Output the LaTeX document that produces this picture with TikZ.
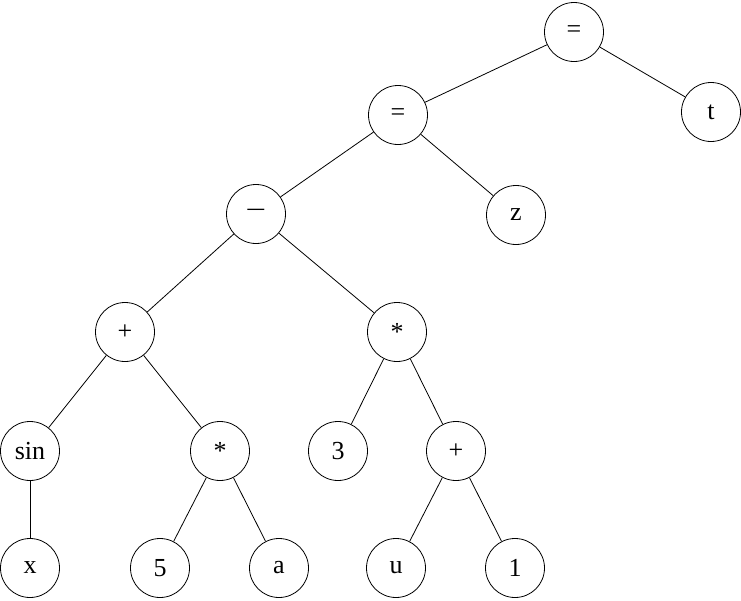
\documentclass[tikz,border=0pt]{standalone}
\usepackage{fontspec}
\setmainfont{Liberation Serif}
\begin{document}
\begin{tikzpicture}[x=1pt,y=-1pt,
  tn/.style={circle,draw,line width=0.8pt,minimum size=59pt,inner sep=0pt,font=\fontsize{26}{29}\selectfont},
  edge/.style={line width=0.8pt}]
\useasboundingbox (0,0) rectangle (741,600);
\node[tn] (eq1) at (574,32) {=};
\node[tn] (t) at (711,112) {t};
\node[tn] (eq2) at (398,115) {=};
\node[tn] (z) at (516,215) {z};
\node[tn] (minus) at (256,214) {\scalebox{1.4}[1]{−}};
\node[tn] (plus1) at (125,332) {+};
\node[tn] (mul1) at (397,332) {\raisebox{-0.15em}{*}};
\node[tn] (sin) at (30,451) {sin};
\node[tn] (mul2) at (220,451) {\raisebox{-0.15em}{*}};
\node[tn] (three) at (338,451) {3};
\node[tn] (plus2) at (456,451) {+};
\node[tn] (x) at (30,568) {x};
\node[tn] (five) at (160,568) {5};
\node[tn] (a) at (279,568) {a};
\node[tn] (u) at (396,568) {u};
\node[tn] (one) at (515,568) {1};
\draw[edge] (eq1) -- (eq2);
\draw[edge] (eq1) -- (t);
\draw[edge] (eq2) -- (minus);
\draw[edge] (eq2) -- (z);
\draw[edge] (minus) -- (plus1);
\draw[edge] (minus) -- (mul1);
\draw[edge] (plus1) -- (sin);
\draw[edge] (plus1) -- (mul2);
\draw[edge] (sin) -- (x);
\draw[edge] (mul2) -- (five);
\draw[edge] (mul2) -- (a);
\draw[edge] (mul1) -- (three);
\draw[edge] (mul1) -- (plus2);
\draw[edge] (plus2) -- (u);
\draw[edge] (plus2) -- (one);
\end{tikzpicture}
\end{document}
